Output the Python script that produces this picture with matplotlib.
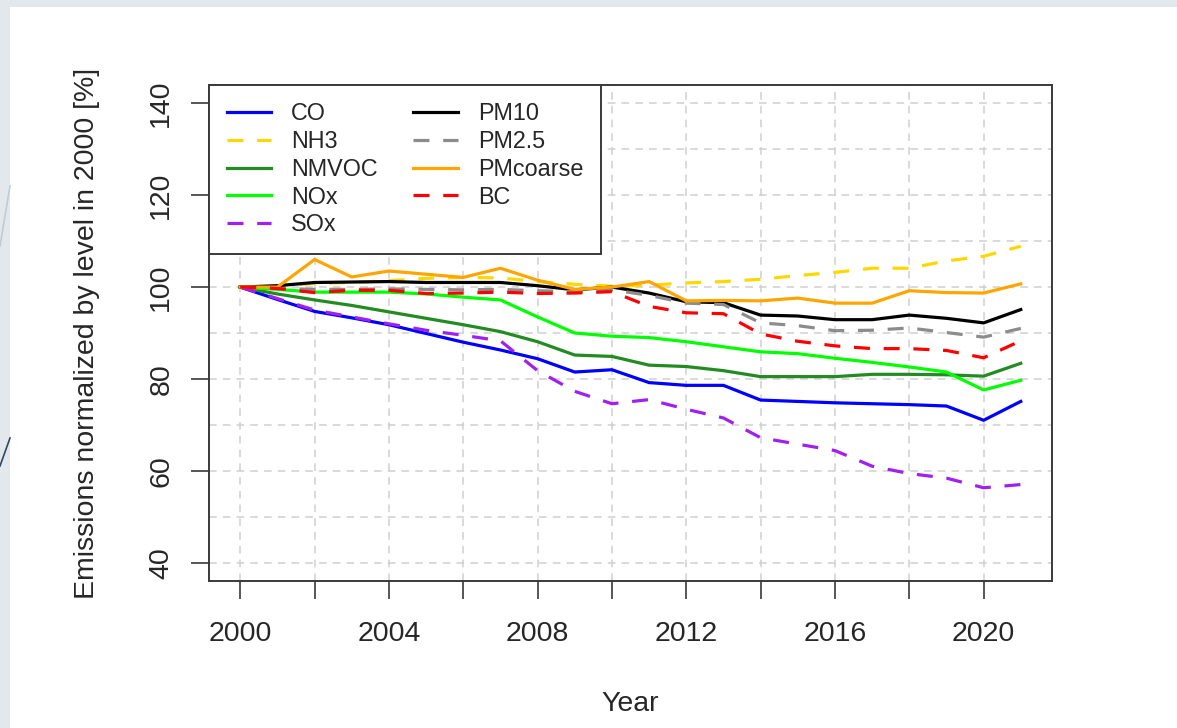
import matplotlib
matplotlib.use("Agg")
import matplotlib.pyplot as plt
from matplotlib.patches import Rectangle
from matplotlib.lines import Line2D

plt.rcParams['font.family'] = ['Liberation Sans', 'DejaVu Sans']

years = list(range(2000, 2022))

co = [100, 97.3, 94.7, 93.3, 91.8, 89.9, 88.0, 86.3, 84.4, 81.5, 82.0,
      79.2, 78.6, 78.6, 75.4, 75.1, 74.8, 74.6, 74.4, 74.1, 71.0, 75.1]
nh3 = [100, 100.2, 100.8, 101.0, 101.4, 101.9, 102.1, 102.0, 101.2, 100.6, 100.2,
       100.4, 100.9, 101.2, 101.7, 102.5, 103.2, 104.1, 104.1, 105.7, 106.7, 108.9]
nmvoc = [100, 98.5, 97.2, 96.0, 94.6, 93.2, 91.8, 90.3, 88.1, 85.2, 84.9,
         83.0, 82.7, 81.8, 80.5, 80.5, 80.5, 81.0, 81.0, 80.9, 80.6, 83.4]
nox = [100, 99.5, 98.9, 98.9, 98.9, 98.5, 97.8, 97.2, 93.5, 90.0, 89.3,
       89.0, 88.1, 87.0, 85.9, 85.5, 84.5, 83.6, 82.6, 81.5, 77.6, 79.7]
sox = [100, 97.5, 95.0, 93.5, 92.0, 90.6, 89.5, 88.3, 81.8, 77.3, 74.6,
       75.5, 73.4, 71.5, 67.2, 65.8, 64.4, 61.0, 59.4, 58.4, 56.3, 57.0]
pm10 = [100, 100.3, 101.0, 101.1, 101.2, 101.0, 101.0, 101.0, 100.3, 99.4, 100.0,
        98.7, 96.8, 96.6, 93.9, 93.7, 92.9, 92.9, 93.9, 93.2, 92.2, 95.1]
pm25 = [100, 99.7, 99.5, 99.5, 99.6, 99.5, 99.4, 99.5, 99.2, 99.0, 99.4,
        98.2, 96.5, 96.2, 92.2, 91.6, 90.5, 90.6, 91.1, 90.1, 89.1, 91.0]
pmcoarse = [100, 100.0, 106.0, 102.2, 103.5, 102.8, 102.1, 104.1, 101.5, 99.5, 100.0,
            101.2, 97.0, 97.1, 97.0, 97.6, 96.5, 96.5, 99.2, 98.8, 98.7, 100.7]
bc = [100, 99.7, 98.8, 99.3, 99.3, 98.6, 98.7, 98.9, 98.6, 98.7, 99.0,
      95.8, 94.4, 94.2, 89.8, 88.2, 87.2, 86.6, 86.6, 86.2, 84.6, 88.3]

series = [
    ("CO", co, "#0000ff", "-"),
    ("NH3", nh3, "#ffd700", "--"),
    ("NMVOC", nmvoc, "#228b22", "-"),
    ("NOx", nox, "#00ff00", "-"),
    ("SOx", sox, "#a020f0", "--"),
    ("PM10", pm10, "#000000", "-"),
    ("PM2.5", pm25, "#8c8c8c", "--"),
    ("PMcoarse", pmcoarse, "#ffa500", "-"),
    ("BC", bc, "#ff0000", "--"),
]

W, H = 1177, 728
fig = plt.figure(figsize=(W / 100, H / 100), dpi=100, facecolor="#e3e8ec")

# white slide panel and the little decorations in the margin
fig.patches.append(Rectangle((10 / W, 0), 1, (H - 7) / H, transform=fig.transFigure,
                             facecolor="white", edgecolor="none", zorder=-10))
fig.lines.append(Line2D([0, 10 / W], [1 - 246 / H, 1 - 186 / H], transform=fig.transFigure,
                        color="#c3ccd4", lw=1.2, zorder=-5))
fig.lines.append(Line2D([0, 10 / W], [1 - 466 / H, 1 - 438 / H], transform=fig.transFigure,
                        color="#2f4b63", lw=1.2, zorder=-5))

ax = fig.add_axes([209 / W, 1 - 581 / H, (1052 - 209) / W, (581 - 85) / H])
ax.set_facecolor("white")

for name, vals, col, ls in series:
    if ls == "--":
        ax.plot(years, vals, color=col, lw=2.3, dashes=(5, 4.3), label=name, zorder=3)
    else:
        ax.plot(years, vals, color=col, lw=2.3, label=name, zorder=3)

ax.set_xlim(1999.16, 2021.84)
ax.set_ylim(36, 144)

xt = list(range(2000, 2022, 2))
ax.set_xticks(xt)
ax.set_xticklabels([str(y) if y % 4 == 0 else "" for y in xt])
ax.set_yticks(range(40, 141, 20))
ax.set_yticks(range(50, 140, 20), minor=True)
ax.tick_params(axis="y", which="minor", length=0)

tick_col = "#3a3a3a"
ax.tick_params(axis="both", which="major", direction="out", length=13, width=1.2,
               color=tick_col, labelsize=20.5, labelcolor="#262626")
ax.tick_params(axis="x", pad=16)
ax.tick_params(axis="y", pad=12)
for lab in ax.get_yticklabels():
    lab.set_rotation(90)
    lab.set_va("center")

ax.grid(True, which="both", color="#cfcfcf", lw=1.1, ls=(0, (5, 4)), zorder=1)

for sp in ax.spines.values():
    sp.set_color(tick_col)
    sp.set_linewidth(1.4)

ax.set_xlabel("Year", fontsize=20.5, color="#262626")
ax.set_ylabel("Emissions normalized by level in 2000 [%]", fontsize=20.5, color="#262626")
ax.xaxis.set_label_coords(0.5, -0.222)
ax.yaxis.set_label_coords(-0.129, 0.5)

leg = ax.legend(ncol=2, loc="upper left", bbox_to_anchor=(0, 1), borderaxespad=0,
                fontsize=16.8, handlelength=1.9, handletextpad=0.85, labelspacing=0.2,
                columnspacing=1.55, borderpad=0.75, fancybox=False, framealpha=1,
                edgecolor=tick_col)
leg.get_frame().set_linewidth(1.4)
leg.set_zorder(5)
for t in leg.get_texts():
    t.set_color("#262626")

fig.savefig("out.png", dpi=100, facecolor=fig.get_facecolor())
